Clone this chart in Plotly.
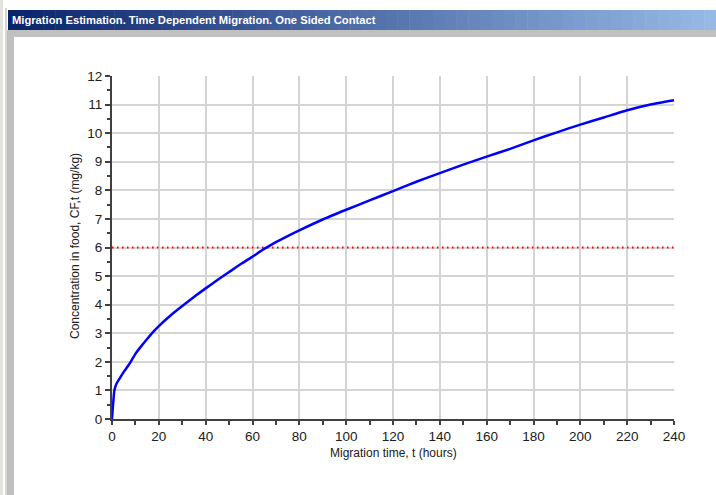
import plotly.graph_objects as go

# ---- data ----
time_h = [0, 0.3, 0.6, 1, 2, 3.5, 5, 6.5, 8, 10, 12.5, 15, 17.5, 20, 25, 30, 35, 40, 45, 50, 55, 60,
          65, 70, 75, 80, 90, 100, 110, 120, 130, 140, 150, 160, 170, 180, 190, 200, 210, 220, 230, 240]
conc = [0, 0.35, 0.65, 1.0, 1.25, 1.45, 1.65, 1.82, 2.0, 2.28, 2.55, 2.8, 3.04, 3.25, 3.62, 3.95,
        4.27, 4.57, 4.86, 5.14, 5.42, 5.68, 5.95, 6.19, 6.4, 6.6, 6.98, 7.32, 7.65, 7.97, 8.3, 8.6,
        8.9, 9.18, 9.45, 9.75, 10.03, 10.3, 10.55, 10.8, 11.0, 11.15]
limit_x = [0, 240]
limit_y = [6, 6]

title_text = "Migration Estimation. Time Dependent Migration. One Sided Contact"
x_title = "Migration time, t (hours)"
y_title = "Concentration in food, CF,t (mg/kg)"

W, H = 716, 495
L, R, T, B = 112, 42, 76, 76
PW, PH = W - L - R, H - T - B


def px(x):
    return (x - L) / PW


def py(y):
    return (H - B - y) / PH


fig = go.Figure()
fig.add_trace(go.Scatter(x=limit_x, y=limit_y, mode="lines",
                         line=dict(color="#ff0000", width=2, dash="1.5px,3.5px"),
                         hoverinfo="skip", showlegend=False))
fig.add_trace(go.Scatter(x=time_h, y=conc, mode="lines", line_shape="spline",
                         line=dict(color="#0000ff", width=2.5, smoothing=0.5),
                         showlegend=False))

shapes = []
# left window frame
shapes.append(dict(type="rect", xref="paper", yref="paper", x0=px(0), x1=px(3), y0=py(H), y1=py(0),
                   fillcolor="#e4e2dc", line=dict(width=0), layer="below"))
shapes.append(dict(type="rect", xref="paper", yref="paper", x0=px(5), x1=px(7), y0=py(H), y1=py(8),
                   fillcolor="#d8d6d0", line=dict(width=0), layer="below"))
shapes.append(dict(type="rect", xref="paper", yref="paper", x0=px(7), x1=px(14), y0=py(H), y1=py(30),
                   fillcolor="#c0c0c0", line=dict(width=0), layer="below"))
shapes.append(dict(type="rect", xref="paper", yref="paper", x0=px(7), x1=px(W), y0=py(37), y1=py(30),
                   fillcolor="#c0c0c0", line=dict(width=0), layer="below"))
# title bar gradient
n = 60
c0 = (10, 36, 106)
c1 = (150, 185, 230)
x_start, x_end = 8, W
for i in range(n):
    f = i / (n - 1)
    col = "rgb(%d,%d,%d)" % tuple(round(c0[k] + (c1[k] - c0[k]) * f) for k in range(3))
    xa = x_start + (x_end - x_start) * i / n
    xb = x_start + (x_end - x_start) * (i + 1) / n + 0.5
    shapes.append(dict(type="rect", xref="paper", yref="paper", x0=px(xa), x1=px(xb),
                       y0=py(30), y1=py(10), fillcolor=col, line=dict(width=0), layer="below"))

annotations = [
    dict(text="<b>" + title_text + "</b>", xref="paper", yref="paper", x=px(10), y=py(20),
         xanchor="left", yanchor="middle", showarrow=False,
         font=dict(family="Liberation Sans, Arial", size=11.2, color="white")),
    dict(text=x_title, xref="paper", yref="paper", x=px(393), y=py(453),
         xanchor="center", yanchor="middle", showarrow=False,
         font=dict(family="Liberation Sans, Arial", size=12, color="#202020")),
    dict(text=y_title, xref="paper", yref="paper", x=px(75), y=py(246), textangle=-90,
         xanchor="center", yanchor="middle", showarrow=False,
         font=dict(family="Liberation Sans, Arial", size=12, color="#202020")),
]

fig.update_layout(
    width=W, height=H, autosize=False,
    margin=dict(l=L, r=R, t=T, b=B),
    paper_bgcolor="white", plot_bgcolor="white",
    shapes=shapes, annotations=annotations,
    xaxis=dict(range=[0, 240], dtick=20, tick0=0, showgrid=True, gridcolor="#d4d4d4", gridwidth=1.5,
               zeroline=False, showline=True, linecolor="#404040", linewidth=2,
               ticks="outside", ticklen=4, tickwidth=2, tickcolor="#404040",
               minor=dict(dtick=10, ticks="outside", ticklen=4, tickwidth=2, tickcolor="#404040", showgrid=False),
               tickfont=dict(family="Liberation Sans, Arial", size=13.5, color="#202020"),
               fixedrange=True),
    yaxis=dict(range=[0, 12], dtick=1, tick0=0, showgrid=True, gridcolor="#d4d4d4", gridwidth=1.5,
               zeroline=False, showline=True, linecolor="#404040", linewidth=2,
               ticks="outside", ticklen=5, tickwidth=2, tickcolor="#404040",
               minor=dict(dtick=0.5, ticks="outside", ticklen=3, tickwidth=2, tickcolor="#404040", showgrid=False),
               tickfont=dict(family="Liberation Sans, Arial", size=13.5, color="#202020"),
               fixedrange=True),
)

fig.write_html("out.html", config={"displayModeBar": False},
               post_script="document.body.style.margin='0';")
